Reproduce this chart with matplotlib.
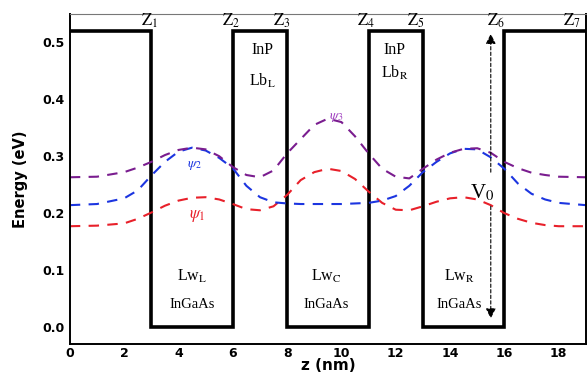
import numpy as np
import matplotlib.pyplot as plt

plt.rcParams['mathtext.fontset'] = 'stix'

# Potential profile (nm, eV)
edges = [0, 3, 6, 8, 11, 13, 16, 19]
levels = [0.52, 0.0, 0.52, 0.0, 0.52, 0.0, 0.52]

# Wavefunctions
z = [0, 1, 2, 2.5, 3, 3.5, 4, 4.5, 5, 5.5, 6, 6.5, 7, 7.5, 8, 8.5, 9, 9.5,
     10, 10.5, 11, 11.5, 12, 12.5, 13, 13.5, 14, 14.5, 15, 15.5, 16, 16.5,
     17, 17.5, 18, 19]
psi1 = [0.177, 0.178, 0.182, 0.190, 0.201, 0.213, 0.222, 0.227, 0.228, 0.224,
        0.216, 0.207, 0.205, 0.212, 0.232, 0.258, 0.272, 0.278, 0.274, 0.260,
        0.238, 0.218, 0.206, 0.205, 0.212, 0.220, 0.226, 0.228, 0.224, 0.214,
        0.200, 0.190, 0.183, 0.179, 0.177, 0.177]
psi2 = [0.214, 0.216, 0.226, 0.240, 0.266, 0.290, 0.308, 0.315, 0.310, 0.297,
        0.279, 0.248, 0.228, 0.219, 0.217, 0.216, 0.216, 0.216, 0.216, 0.217,
        0.218, 0.222, 0.230, 0.248, 0.272, 0.290, 0.305, 0.313, 0.312, 0.298,
        0.278, 0.252, 0.234, 0.224, 0.218, 0.214]
psi3 = [0.263, 0.264, 0.272, 0.280, 0.290, 0.302, 0.311, 0.315, 0.312, 0.300,
        0.281, 0.267, 0.263, 0.275, 0.305, 0.330, 0.355, 0.366, 0.360, 0.335,
        0.305, 0.278, 0.264, 0.261, 0.278, 0.294, 0.306, 0.313, 0.314, 0.306,
        0.290, 0.279, 0.271, 0.267, 0.264, 0.263]

fig = plt.figure(figsize=(5.87, 3.76), dpi=100)
ax = fig.add_axes([0.119, 0.085, 0.879, 0.878])

ax.stairs(levels, edges, baseline=None, color='black', lw=2.6)
ax.plot(z, psi1, color='#e8202a', ls=(0, (5, 4)), lw=1.5)
ax.plot(z, psi2, color='#1c35e0', ls=(0, (5, 4)), lw=1.5)
ax.plot(z, psi3, color='#7a1d8f', ls=(0, (5, 4)), lw=1.5)

ax.set_xlim(0, 19)
ax.set_ylim(-0.03, 0.55)
ax.set_xticks(range(0, 19, 2))
ax.set_yticks([0.0, 0.1, 0.2, 0.3, 0.4, 0.5])
ax.set_yticklabels(['0.0', '0.1', '0.2', '0.3', '0.4', '0.5'])
ax.tick_params(axis='x', length=0, pad=2, labelsize=9)
ax.tick_params(axis='y', length=0, pad=4, labelsize=9)
for lab in ax.get_xticklabels() + ax.get_yticklabels():
    lab.set_fontweight('bold')
ax.set_xlabel('z (nm)', fontsize=11, fontweight='bold', labelpad=-1)
ax.set_ylabel('Energy (eV)', fontsize=10.5, fontweight='bold', labelpad=10)
for s in ['left', 'bottom', 'right']:
    ax.spines[s].set_linewidth(1.4)
ax.spines['top'].set_color('#777777')

serif = 'Liberation Serif'
zpos = [2.95, 5.95, 7.8, 10.9, 12.75, 15.7, 18.5]
for i, zp in enumerate(zpos):
    ax.text(zp, 0.522, r'$\mathrm{Z}_{%d}$' % (i + 1), fontsize=12,
            ha='center', va='bottom')

ax.text(7.1, 0.486, 'InP', family=serif, fontsize=11.5, ha='center', va='center')
ax.text(7.1, 0.433, r'Lb$_{\mathrm{L}}$', family=serif, fontsize=11.5, ha='center', va='center')
ax.text(11.95, 0.486, 'InP', family=serif, fontsize=11.5, ha='center', va='center')
ax.text(11.95, 0.446, r'Lb$_{\mathrm{R}}$', family=serif, fontsize=11.5, ha='center', va='center')

wells = [(4.5, 'L'), (9.45, 'C'), (14.35, 'R')]
for zc, sub in wells:
    ax.text(zc, 0.089, r'Lw$_{\mathrm{%s}}$' % sub, family=serif, fontsize=11.5,
            ha='center', va='center')
    ax.text(zc, 0.040, 'InGaAs', family=serif, fontsize=10.5, ha='center', va='center')

ax.text(4.6, 0.284, r'$\psi_2$', color='#1c35e0', fontsize=10, ha='center', va='center')
ax.text(4.7, 0.196, r'$\psi_1$', color='#e8202a', fontsize=12, ha='center', va='center')
ax.text(9.8, 0.369, r'$\psi_3$', color='#a040c0', fontsize=10, ha='center', va='center')
ax.text(15.2, 0.235, r'V$_0$', family=serif, fontsize=15, ha='center', va='center')

arrow = dict(arrowstyle='-|>', color='black', lw=0.8, ls=(0, (3, 2)),
             mutation_scale=15, shrinkA=0, shrinkB=0)
ax.annotate('', xy=(15.5, 0.515), xytext=(15.5, 0.272), arrowprops=arrow)
ax.annotate('', xy=(15.5, 0.015), xytext=(15.5, 0.212), arrowprops=arrow)

fig.savefig('out.png', dpi=100)
